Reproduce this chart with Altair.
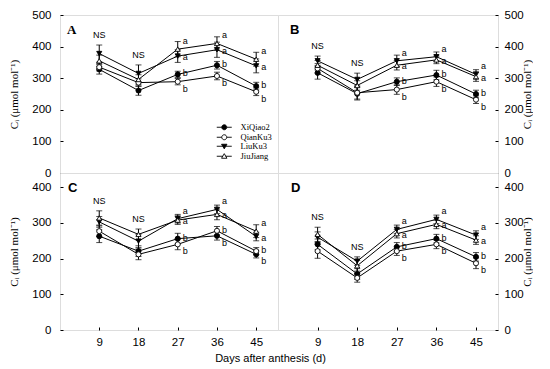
import altair as alt
import pandas as pd

days = [9, 18, 27, 36, 45]
series = ["XiQiao2", "QianKu3", "LiuKu3", "JiuJiang"]
marker_shape = {"XiQiao2": "circle", "QianKu3": "circle", "LiuKu3": "triangle-down", "JiuJiang": "triangle-up"}
marker_fill = {"XiQiao2": "black", "QianKu3": "white", "LiuKu3": "black", "JiuJiang": "white"}
group_letter = {"XiQiao2": "b", "QianKu3": "b", "LiuKu3": "a", "JiuJiang": "a"}
sig_days = [27, 36, 45]
ns_days = [9, 18]

# Panel A means / errors
A_XiQiao2 = [328, 261, 312, 341, 275]
A_QianKu3 = [335, 286, 289, 307, 257]
A_LiuKu3 = [378, 315, 370, 390, 339]
A_JiuJiang = [355, 296, 392, 410, 360]
A_err_XiQiao2 = [15, 15, 10, 12, 12]
A_err_QianKu3 = [12, 12, 10, 12, 12]
A_err_LiuKu3 = [27, 27, 20, 24, 22]
A_err_JiuJiang = [18, 15, 24, 21, 22]

# Panel B
B_XiQiao2 = [317, 251, 289, 310, 250]
B_QianKu3 = [331, 254, 264, 289, 232]
B_LiuKu3 = [355, 296, 355, 368, 312]
B_JiuJiang = [341, 277, 341, 358, 305]
B_err_XiQiao2 = [20, 20, 12, 15, 12]
B_err_QianKu3 = [15, 20, 15, 15, 12]
B_err_LiuKu3 = [15, 20, 18, 15, 15]
B_err_JiuJiang = [15, 15, 15, 12, 15]

# Panel C
C_XiQiao2 = [263, 221, 256, 264, 212]
C_QianKu3 = [277, 212, 240, 278, 221]
C_LiuKu3 = [303, 249, 312, 338, 262]
C_JiuJiang = [314, 268, 308, 324, 277]
C_err_XiQiao2 = [18, 15, 15, 12, 10]
C_err_QianKu3 = [15, 15, 15, 12, 10]
C_err_LiuKu3 = [15, 18, 12, 12, 12]
C_err_JiuJiang = [20, 15, 12, 15, 18]

# Panel D
D_XiQiao2 = [240, 157, 233, 256, 205]
D_QianKu3 = [221, 146, 221, 240, 187]
D_LiuKu3 = [260, 193, 282, 310, 266]
D_JiuJiang = [268, 180, 270, 296, 252]
D_err_XiQiao2 = [15, 15, 12, 12, 12]
D_err_QianKu3 = [20, 12, 12, 12, 15]
D_err_LiuKu3 = [15, 12, 12, 12, 12]
D_err_JiuJiang = [20, 15, 12, 12, 12]

top_ticks = [0, 100, 200, 300, 400, 500]
bottom_ticks = [0, 100, 200, 300, 400]
ytitle = "Cᵢ (μmol mol⁻¹)"

# legend symbols: short line with marker in the middle (custom SVG paths)
LEG_CIRCLE = "M-3.75,0L-1.25,0M1.25,0L3.75,0M-1.25,0A1.25,1.25,0,1,0,1.25,0A1.25,1.25,0,1,0,-1.25,0Z"
LEG_TDOWN = "M-3.75,0L-0.7,0M0.7,0L3.75,0M-1.35,-1L1.35,-1L0,1.3Z"
LEG_TUP = "M-3.75,0L-0.7,0M0.7,0L3.75,0M-1.35,1L1.35,1L0,-1.3Z"
leg_shape_scale = alt.Scale(domain=series, range=[LEG_CIRCLE, LEG_CIRCLE, LEG_TDOWN, LEG_TUP])
leg_fill_scale = alt.Scale(domain=series, range=["black", "white", "black", "white"])
leg_stroke_scale = alt.Scale(domain=series, range=["black", "black", "black", "black"])


def build_df(means, errs):
    rows = []
    for s, m, e in zip(series, means, errs):
        for d, v, er in zip(days, m, e):
            rows.append(dict(day=d, series=s, grp=group_letter[s], v=v, lo=v - er, hi=v + er,
                             letter=group_letter[s] if d in sig_days else ""))
    df = pd.DataFrame(rows)
    df["upper"] = df.groupby(["day", "grp"])["v"].transform("max") == df["v"]
    return df


def panel(label, label_font, label_x, means, errs, ydom, yticks, orient, height, width,
          show_x, with_legend):
    df = build_df(means, errs)
    ns = df[df.day.isin(ns_days)].groupby("day", as_index=False)["hi"].max()
    ns["txt"] = "NS"
    xscale = alt.Scale(domain=[0, 50], nice=False, zero=False)
    yscale = alt.Scale(domain=ydom, nice=False)
    if show_x:
        xaxis = alt.Axis(values=days, title=None, grid=False, domain=False, tickColor="black",
                         tickSize=3, offset=-3, labelFont="Liberation Sans", labelFontSize=11.5,
                         labelColor="black", labelPadding=6, labelOverlap=False)
    else:
        xaxis = None
    left = orient == "left"
    yaxis = alt.Axis(orient=orient, values=yticks, title=ytitle, grid=False, domain=False,
                     tickColor="black", tickSize=3, offset=-3,
                     labelFont="Liberation Sans", labelFontSize=11.5, labelColor="black",
                     labelPadding=(9 if left else 6), labelOverlap=False,
                     titleFont="Liberation Serif", titleFontSize=11, titleFontWeight="normal",
                     titleColor="black", titleAngle=270, titlePadding=(12 if left else 9))
    X = alt.X("day:Q", scale=xscale, axis=xaxis)

    def Y(f):
        return alt.Y(f, scale=yscale, axis=yaxis)

    base = alt.Chart(df)
    layers = [
        base.mark_line(color="black", strokeWidth=1).encode(x=X, y=Y("v:Q"), detail="series:N"),
        base.mark_rule(color="black", strokeWidth=1).encode(x=X, y=Y("lo:Q"), y2="hi:Q"),
        base.mark_tick(orient="horizontal", size=6, thickness=1, color="black").encode(
            x=X, y=Y("lo:Q")),
        base.mark_tick(orient="horizontal", size=6, thickness=1, color="black").encode(
            x=X, y=Y("hi:Q")),
    ]
    for s in series:
        layers.append(base.transform_filter(alt.datum.series == s).mark_point(
            shape=marker_shape[s], filled=True, fill=marker_fill[s], stroke="black",
            strokeWidth=0.9, size=26, opacity=1).encode(x=X, y=Y("v:Q")))
    letter_specs = [("a", True, -8), ("a", False, 1), ("b", True, -1), ("b", False, 7)]
    for g, up, dy in letter_specs:
        cond = (alt.datum.grp == g) & (alt.datum.upper if up else ~alt.datum.upper)
        layers.append(base.transform_filter(cond).mark_text(
            align="left", baseline="middle", dx=5, dy=dy, fontSize=9,
            font="Liberation Sans", color="black").encode(x=X, y=Y("v:Q"), text="letter:N"))
    layers.append(alt.Chart(ns).mark_text(align="center", baseline="bottom", dy=-5, fontSize=9,
                                          font="Liberation Sans", color="black").encode(
        x=X, y=Y("hi:Q"), text="txt:N"))
    layers.append(alt.Chart(pd.DataFrame({"t": [label]})).mark_text(
        align="left", baseline="top", fontSize=13, fontWeight="bold", font=label_font,
        color="black").encode(x=alt.value(label_x), y=alt.value(9), text="t:N"))
    if with_legend:
        leg = alt.Legend(title=None, orient="none", legendX=160, legendY=108,
                         labelFont="Liberation Serif", labelFontSize=8.5, labelColor="black",
                         labelOffset=12, symbolSize=16, symbolStrokeWidth=0.9,
                         symbolOpacity=1, rowPadding=0, padding=0)
        legdf = pd.DataFrame({"series": series, "day": 9, "v": 100})
        layers.append(alt.Chart(legdf).transform_filter("false").mark_point(
            filled=True, size=16, opacity=1).encode(
            x=X, y=Y("v:Q"),
            shape=alt.Shape("series:N", scale=leg_shape_scale, legend=leg),
            fill=alt.Fill("series:N", scale=leg_fill_scale, legend=leg),
            stroke=alt.Stroke("series:N", scale=leg_stroke_scale, legend=leg)))
    return alt.layer(*layers).properties(width=width, height=height)


pA = panel("A", "Liberation Serif", 7, [A_XiQiao2, A_QianKu3, A_LiuKu3, A_JiuJiang],
           [A_err_XiQiao2, A_err_QianKu3, A_err_LiuKu3, A_err_JiuJiang],
           [0, 500], top_ticks, "left", 158, 218, False, True)
pB = panel("B", "Liberation Sans", 12, [B_XiQiao2, B_QianKu3, B_LiuKu3, B_JiuJiang],
           [B_err_XiQiao2, B_err_QianKu3, B_err_LiuKu3, B_err_JiuJiang],
           [0, 500], top_ticks, "right", 158, 220, False, False)
pC = panel("C", "Liberation Sans", 8, [C_XiQiao2, C_QianKu3, C_LiuKu3, C_JiuJiang],
           [C_err_XiQiao2, C_err_QianKu3, C_err_LiuKu3, C_err_JiuJiang],
           [0, 440], bottom_ticks, "left", 157, 218, True, False)
pD = panel("D", "Liberation Sans", 13, [D_XiQiao2, D_QianKu3, D_LiuKu3, D_JiuJiang],
           [D_err_XiQiao2, D_err_QianKu3, D_err_LiuKu3, D_err_JiuJiang],
           [0, 440], bottom_ticks, "right", 157, 220, True, False)

chart = alt.concat(pA, pB, pC, pD, columns=2, spacing=0, bounds="flush").properties(
    padding=0,
    title=alt.TitleParams(text="Days after anthesis (d)", orient="bottom", anchor="middle",
                          font="Liberation Sans", fontSize=11, fontWeight="normal",
                          color="black", offset=5)
).configure_view(stroke="#444", strokeWidth=1).configure(background="white")

chart.save("out.html", embed_options={"renderer": "svg", "actions": False})
